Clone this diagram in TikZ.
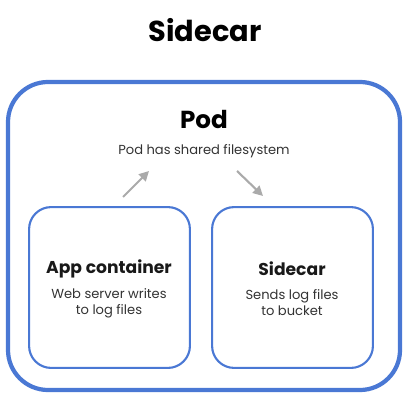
\documentclass[tikz,border=0pt]{standalone}
\usepackage{fontspec}
\setmainfont{Poppins}
\usetikzlibrary{positioning,arrows.meta}
\definecolor{podblue}{RGB}{74,120,212}
\definecolor{arrowgray}{RGB}{170,170,170}
\tikzset{
  podbox/.style={draw=podblue,line width=4pt*0.75,rounded corners=1cm},
  ctrbox/.style={draw=podblue,line width=1.5pt,rounded corners=0.55cm,minimum width=4.02cm,minimum height=4.02cm},
  flow/.style={draw=arrowgray,line width=1.5pt,-{Triangle[length=7pt,width=7pt]}},
  heading/.style={font=\bfseries\fontsize{12.2}{14}\selectfont,text=black!90},
  note/.style={font=\fontsize{9.3}{11.3}\selectfont,text=black!80,align=center}
}
\begin{document}
\begin{tikzpicture}[x=0.025cm,y=-0.025cm]
        \useasboundingbox (0,0) rectangle (412,412);
        \node[font=\bfseries\fontsize{20.5}{24}\selectfont] (title) at (205,30) {Sidecar};
        \draw[podbox] (8,82) rectangle (400,390);
        \node[font=\bfseries\fontsize{17.5}{20}\selectfont] (pod) at (204,119) {Pod};
        \node[note] (shared) at (204,151) {Pod has shared filesystem};
        \node[ctrbox] (app) at (109.5,287.5) {};
        \node[ctrbox] (side) at (292.5,287.5) {};
        \node[heading] (apptitle) at (109,269) {App container};
        \node[note] (appnote) at (109,303) {Web server writes\\to log files};
        \node[heading] (sidetitle) at (292,269) {Sidecar};
        \node[note] (sidenote) at (292,303) {Sends log files\\to bucket};
        \coordinate (upfrom) at (123,197);
        \coordinate (upto) at (149,171);
        \coordinate (downfrom) at (237,171);
        \coordinate (downto) at (263,196);
        \draw[flow] (upfrom) -- (upto);
        \draw[flow] (downfrom) -- (downto);
    \end{tikzpicture}
\end{document}
